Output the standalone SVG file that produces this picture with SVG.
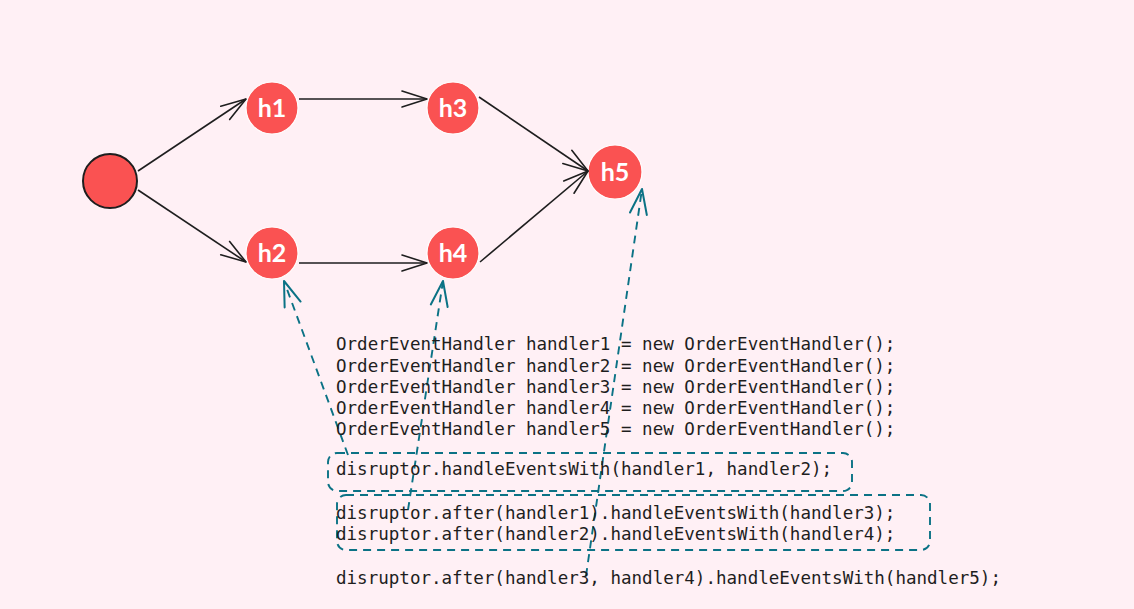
<svg xmlns="http://www.w3.org/2000/svg" width="1134" height="609" viewBox="0 0 1134 609">
<defs>
<marker id="ah" viewBox="-28 -12 30 24" markerWidth="30" markerHeight="24" refX="0" refY="0" orient="auto" markerUnits="userSpaceOnUse">
<path d="M -25 -8 L 0 0 L -25 8" fill="none" stroke="#1e1e1e" stroke-width="1.6" stroke-linecap="round" stroke-linejoin="round"/>
</marker>
<marker id="ahd" viewBox="-28 -12 30 24" markerWidth="30" markerHeight="24" refX="0" refY="0" orient="auto" markerUnits="userSpaceOnUse">
<path d="M -25 -8.5 L 0 0 L -25 8.5" fill="none" stroke="#0b7285" stroke-width="2" stroke-linecap="round" stroke-linejoin="round"/>
</marker>
</defs>
<style>
.node circle{fill:#fa5252;stroke:#ffffff;stroke-width:1.2}
.node text{fill:#ffffff;font-family:"Lato","Noto Sans",sans-serif;font-size:25px;font-weight:bold;text-anchor:middle}
.edge{fill:none;stroke:#1e1e1e;stroke-width:1.6;marker-end:url(#ah)}
.dash{fill:none;stroke:#0b7285;stroke-width:1.9;stroke-dasharray:8 6;marker-end:url(#ahd)}
.box{fill:none;stroke:#0b7285;stroke-width:1.9;stroke-dasharray:8 6}
.code{fill:#1e1e1e;font-family:"DejaVu Sans Mono","Liberation Mono",monospace;font-size:17.55px}
</style>
<rect x="0" y="0" width="1134" height="609" fill="#fff0f5"/>
<g id="start"><circle cx="110" cy="181" r="27" fill="#fa5252" stroke="#1e1e1e" stroke-width="2"/></g>
<g id="h1" class="node"><circle cx="272" cy="108" r="26"/><text x="272" y="117">h1</text></g>
<g id="h2" class="node"><circle cx="272" cy="253" r="26"/><text x="272" y="262">h2</text></g>
<g id="h3" class="node"><circle cx="453" cy="108" r="26"/><text x="453" y="117">h3</text></g>
<g id="h4" class="node"><circle cx="453" cy="253" r="26"/><text x="453" y="262">h4</text></g>
<g id="h5" class="node"><circle cx="615" cy="172" r="27"/><text x="615" y="181">h5</text></g>
<g id="connectors">
<path class="edge" d="M 138 171 L 246 99"/>
<path class="edge" d="M 138 190 L 246 262"/>
<path class="edge" d="M 299 99 L 427 99"/>
<path class="edge" d="M 299 263 L 427 263"/>
<path class="edge" d="M 479 97 L 588 171"/>
<path class="edge" d="M 480 262 L 588 171"/>
<path class="dash" d="M 348 455 L 284 281"/>
<path class="dash" d="M 408 510 L 443 281"/>
<path class="dash" d="M 586 576 L 642 189"/>
</g>
<g id="code-boxes">
<rect class="box" x="328" y="453" width="524" height="38" rx="9"/>
<rect class="box" x="337" y="495" width="593" height="55" rx="9"/>
</g>
<g id="code">
<text class="code" x="336" y="350">OrderEventHandler handler1 = new OrderEventHandler();</text>
<text class="code" x="336" y="371.5">OrderEventHandler handler2 = new OrderEventHandler();</text>
<text class="code" x="336" y="393">OrderEventHandler handler3 = new OrderEventHandler();</text>
<text class="code" x="336" y="414">OrderEventHandler handler4 = new OrderEventHandler();</text>
<text class="code" x="336" y="435">OrderEventHandler handler5 = new OrderEventHandler();</text>
<text class="code" x="336" y="475">disruptor.handleEventsWith(handler1, handler2);</text>
<text class="code" x="336" y="519">disruptor.after(handler1).handleEventsWith(handler3);</text>
<text class="code" x="336" y="540">disruptor.after(handler2).handleEventsWith(handler4);</text>
<text class="code" x="336" y="584">disruptor.after(handler3, handler4).handleEventsWith(handler5);</text>
</g>
</svg>
